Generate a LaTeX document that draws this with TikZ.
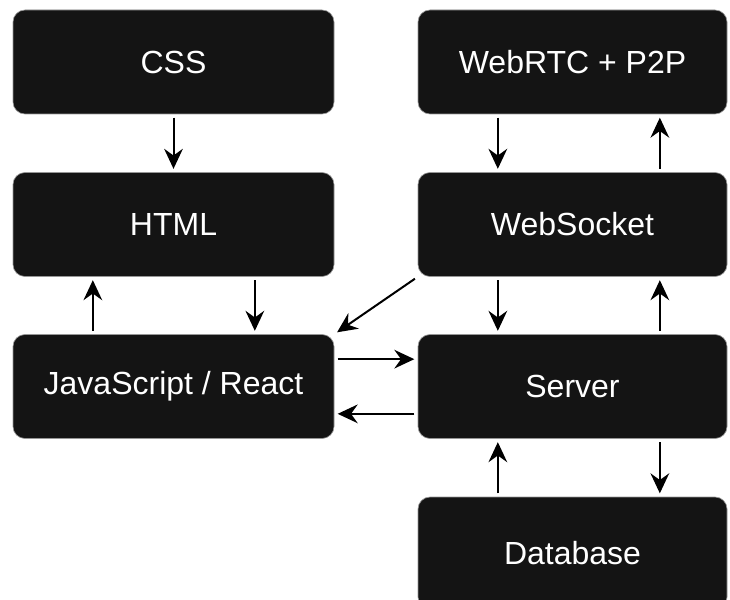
\documentclass[tikz,border=0pt]{standalone}
\usepackage{fontspec}
\setmainfont{Liberation Sans}
\usetikzlibrary{arrows.meta}

\definecolor{boxfill}{RGB}{20,20,20}
\definecolor{boxline}{RGB}{150,150,150}

\tikzset{every picture/.style={line width=0.75pt}}
\tikzset{
  block/.style={draw=boxline, line width=0.5pt, fill=boxfill, rounded corners=9pt,
    text=white, font=\fontsize{24}{28}\selectfont, inner sep=0pt,
    minimum width=240.75pt, minimum height=78pt},
  rblock/.style={block, minimum width=231.75pt},
  link/.style={line width=1.5pt, -{Stealth[length=15pt,width=14pt,inset=5pt]},
    shorten <=2.5pt, shorten >=2.5pt}
}

\begin{document}
\begin{tikzpicture}[x=0.75pt,y=0.75pt,yscale=-1,xscale=1]
%set diagram size: 730 x 599
\useasboundingbox (0,0) rectangle (730,599);

% Left column
\node [block] (css) at (173.5,62) {CSS};
\node [block] (html) at (173.5,224.5) {HTML};
\node [block] (js) at (173.5,386.5) {JavaScript / React};

% Right column
\node [rblock] (rtc) at (572.5,62) {WebRTC + P2P};
\node [rblock] (ws) at (572.5,224.5) {WebSocket};
\node [rblock] (srv) at (572.5,386.5) {Server};
\node [rblock, minimum height=84pt] (db) at (572.5,553) {Database};

%Straight Lines
\draw [link] (css.south) -- (html.north);
\draw [link] ([xshift=61pt]html.south) -- ([xshift=61pt]js.north);
\draw [link] ([xshift=-60.5pt]js.north) -- ([xshift=-60.5pt]html.south);

%Straight Lines
\draw [link] ([xshift=-56pt]rtc.south) -- ([xshift=-56pt]ws.north);
\draw [link] ([xshift=65.5pt]ws.north) -- ([xshift=65.5pt]rtc.south);
\draw [link] ([xshift=-56pt]ws.south) -- ([xshift=-56pt]srv.north);
\draw [link] ([xshift=65.5pt]srv.north) -- ([xshift=65.5pt]ws.south);
\draw [link] ([xshift=65.5pt]srv.south) -- ([xshift=65.5pt]db.north);
\draw [link] ([xshift=-56pt]db.north) -- ([xshift=-56pt]srv.south);

%Straight Lines
\draw [link] (ws.south west) -- (js.north east);
\draw [link] ([yshift=-20.5pt]js.east) -- ([yshift=-20.5pt]srv.west);
\draw [link] ([yshift=20.5pt]srv.west) -- ([yshift=20.5pt]js.east);

\end{tikzpicture}
\end{document}
